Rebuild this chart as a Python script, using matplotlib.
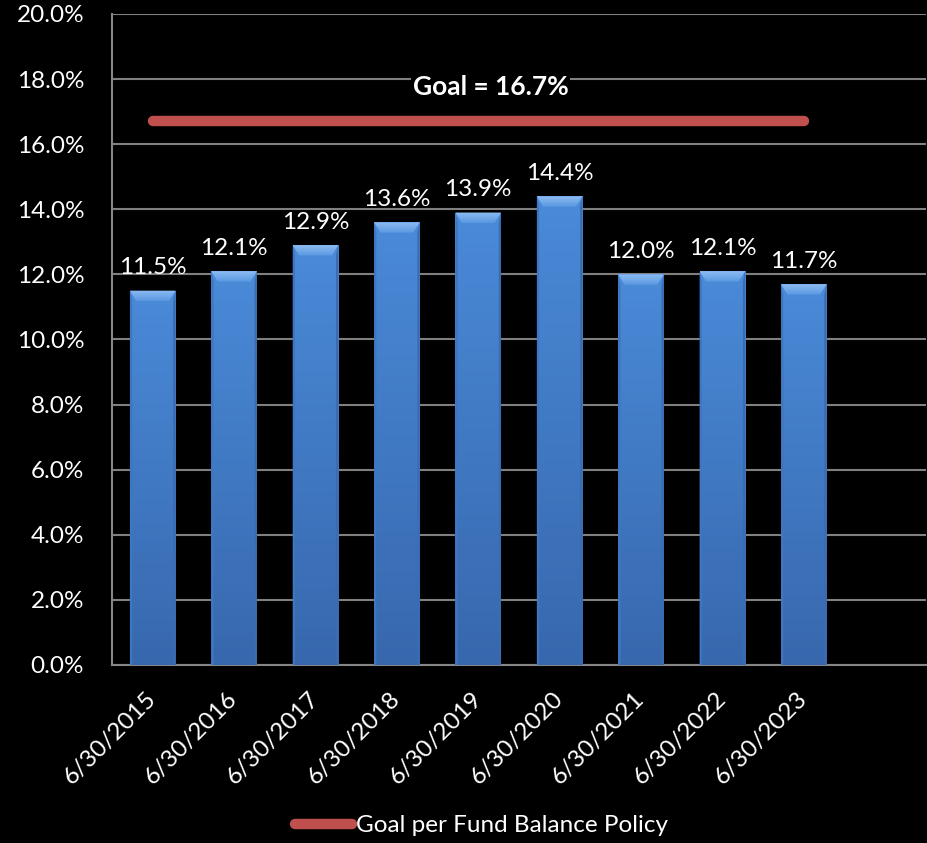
import matplotlib
matplotlib.use('Agg')
import matplotlib.pyplot as plt
import numpy as np
from matplotlib.patches import Polygon
from matplotlib.colors import LinearSegmentedColormap

plt.rcParams['font.family'] = ['Lato', 'DejaVu Sans']

# Fund balance as a share of expenditures
dates = ['6/30/2015', '6/30/2016', '6/30/2017', '6/30/2018', '6/30/2019',
         '6/30/2020', '6/30/2021', '6/30/2022', '6/30/2023']
ratios = [11.5, 12.1, 12.9, 13.6, 13.9, 14.4, 12.0, 12.1, 11.7]
goal = 16.7
goal_label = 'Goal per Fund Balance Policy'

fs = 17.5

fig = plt.figure(figsize=(9.28, 8.43), dpi=100, facecolor='black')
ax = fig.add_axes([0.1207, 0.2112, 0.877, 0.7722], facecolor='black')

# one empty slot after the last year
n_slots = len(dates) + 1
x = np.arange(len(dates))

bars = ax.bar(x, ratios, width=0.56, color='#4482d2', zorder=3)

grad = LinearSegmentedColormap.from_list('blue', ['#3768ae', '#4a8ad8'])
top_grad = LinearSegmentedColormap.from_list('bevel', ['#5a98e2', '#8cbcf2'])
for b, v in zip(bars, ratios):
    x0, w = b.get_x(), b.get_width()
    img = ax.imshow(np.linspace(0, 1, 100).reshape(-1, 1), cmap=grad,
                    extent=[x0, x0 + w, 0, v], origin='lower',
                    aspect='auto', zorder=3.1)
    img.set_clip_path(b)
    # bevel along the top edge and thin shaded sides
    dx, dy = w * 0.14, 0.32
    bevel = Polygon([[x0, v], [x0 + w, v], [x0 + w - dx, v - dy], [x0 + dx, v - dy]],
                    closed=True, facecolor='none', edgecolor='none')
    ax.add_patch(bevel)
    bimg = ax.imshow(np.linspace(0, 1, 20).reshape(-1, 1), cmap=top_grad,
                     extent=[x0, x0 + w, v - dy, v], origin='lower',
                     aspect='auto', zorder=3.2)
    bimg.set_clip_path(bevel)
    sx = w * 0.05
    ax.add_patch(Polygon([[x0, v], [x0 + sx, v - dy], [x0 + sx, 0], [x0, 0]],
                         closed=True, facecolor='#3e76c2', edgecolor='none', zorder=3.2))
    ax.add_patch(Polygon([[x0 + w, v], [x0 + w - sx, v - dy], [x0 + w - sx, 0], [x0 + w, 0]],
                         closed=True, facecolor='#3a6cb2', edgecolor='none', zorder=3.2))
    ax.text(b.get_x() + w / 2, v + 0.38, f'{v:.1f}%', ha='center', va='bottom',
            color='white', fontsize=fs, zorder=5)

ax.plot([x[0], x[-1]], [goal, goal], color='#c0504d', lw=7.5,
        solid_capstyle='round', zorder=4, label=goal_label)
ax.text(4.15, 17.75, f'Goal = {goal}%', ha='center', va='center', color='white',
        fontsize=19, fontweight='bold', zorder=5,
        bbox=dict(facecolor='black', edgecolor='none', pad=1))

ax.set_xlim(-0.5, n_slots - 0.5)
ax.set_ylim(0, 20)
ax.set_yticks(np.arange(0, 21, 2))
ax.set_yticklabels([f'{t:.1f}%' for t in np.arange(0, 21, 2)])
ax.yaxis.grid(True, color='#808080', lw=1.5, zorder=0)
ax.set_axisbelow(True)
ax.set_xticks(x)
ax.set_xticklabels(dates, rotation=45, ha='right', va='center', rotation_mode='anchor')
ax.tick_params(axis='both', length=0, colors='white', labelsize=fs)
ax.tick_params(axis='y', pad=20)
ax.tick_params(axis='x', pad=22)

for s in ['top', 'right']:
    ax.spines[s].set_visible(False)
for s in ['left', 'bottom']:
    ax.spines[s].set_color('#868686')
    ax.spines[s].set_linewidth(1.5)

leg = fig.legend(loc='lower center', bbox_to_anchor=(0.519, -0.018), frameon=False,
                 fontsize=fs, handlelength=2.35, handletextpad=0.15)
for t in leg.get_texts():
    t.set_color('white')

fig.savefig('out.png', dpi=100, facecolor='black')
